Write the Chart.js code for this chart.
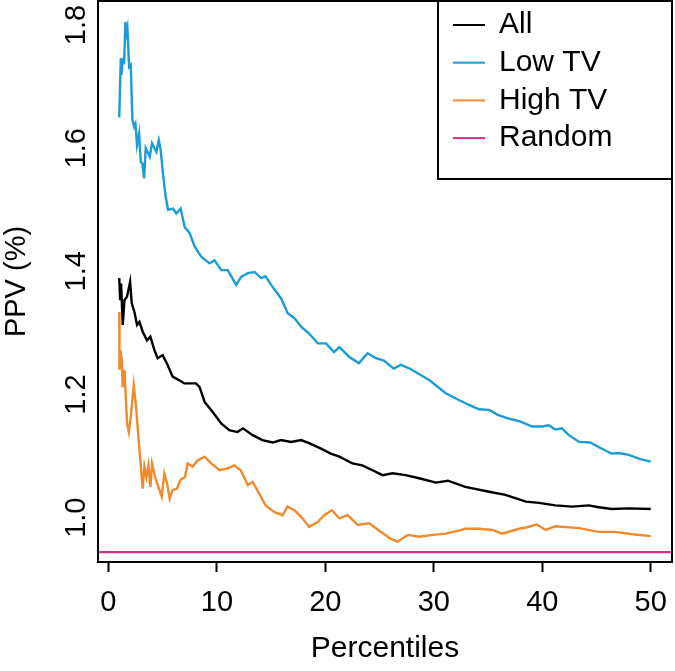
<!DOCTYPE html>
<html>
<head>
<meta charset="utf-8">
<script src="https://cdn.jsdelivr.net/npm/chart.js@4.4.1/dist/chart.umd.min.js"></script>
<style>
  html, body { margin: 0; padding: 0; background: #fff; }
</style>
</head>
<body>
<canvas id="ppv" width="675" height="671"></canvas>
<script>
// valores (percentil, PPV %)
const allX = [1.0, 1.08, 1.17, 1.32, 1.48, 1.72, 2.0, 2.15, 2.4, 2.64, 2.86, 3.16, 3.56, 3.87, 4.24, 4.54, 5.0, 5.46, 5.92, 6.54, 7.0, 7.6, 8.07, 8.41, 8.87, 9.6, 10.4, 11.14, 11.9, 12.4, 13.3, 14.2, 15.15, 15.9, 16.85, 17.76, 18.5, 19.6, 20.5, 21.3, 22.5, 23.4, 24.35, 25.27, 26.2, 27.4, 28.65, 30.2, 31.3, 32.9, 35.1, 36.6, 38.5, 39.7, 41.2, 42.75, 44.3, 45.2, 46.4, 47.97, 50.0];
const allY = [1.389, 1.353, 1.380, 1.313, 1.353, 1.359, 1.383, 1.348, 1.334, 1.313, 1.318, 1.302, 1.288, 1.294, 1.272, 1.259, 1.264, 1.248, 1.229, 1.223, 1.218, 1.218, 1.218, 1.212, 1.188, 1.172, 1.153, 1.142, 1.139, 1.145, 1.134, 1.126, 1.122, 1.126, 1.123, 1.126, 1.121, 1.112, 1.104, 1.099, 1.088, 1.085, 1.077, 1.069, 1.072, 1.069, 1.064, 1.057, 1.060, 1.050, 1.042, 1.037, 1.026, 1.024, 1.020, 1.018, 1.020, 1.017, 1.014, 1.015, 1.014];

const lowTvX = [1.0, 1.14, 1.2, 1.32, 1.45, 1.57, 1.66, 1.75, 1.91, 2.06, 2.21, 2.37, 2.49, 2.64, 2.83, 2.98, 3.13, 3.29, 3.44, 3.66, 3.81, 4.02, 4.2, 4.42, 4.64, 4.82, 5.03, 5.28, 5.5, 5.95, 6.26, 6.66, 7.03, 7.49, 7.96, 8.56, 9.33, 9.79, 10.4, 11.0, 11.78, 12.24, 12.85, 13.47, 14.08, 14.48, 15.0, 15.92, 16.53, 17.15, 17.76, 18.5, 19.3, 20.06, 20.8, 21.3, 22.2, 23.1, 23.9, 24.66, 25.4, 26.3, 26.97, 27.9, 29.6, 31.1, 32.3, 33.25, 34.17, 35.1, 35.9, 36.9, 38.0, 39.07, 40.0, 40.6, 41.2, 41.8, 42.45, 43.4, 44.4, 45.5, 46.4, 47.05, 47.97, 49.04, 50.0];
const lowTvY = [1.650, 1.746, 1.719, 1.743, 1.740, 1.805, 1.787, 1.795, 1.732, 1.735, 1.646, 1.635, 1.640, 1.605, 1.624, 1.578, 1.575, 1.551, 1.600, 1.592, 1.586, 1.608, 1.602, 1.594, 1.613, 1.597, 1.559, 1.521, 1.500, 1.502, 1.494, 1.502, 1.472, 1.462, 1.440, 1.424, 1.413, 1.418, 1.402, 1.402, 1.378, 1.391, 1.397, 1.399, 1.389, 1.392, 1.378, 1.356, 1.332, 1.324, 1.310, 1.299, 1.283, 1.283, 1.269, 1.277, 1.261, 1.251, 1.267, 1.259, 1.255, 1.242, 1.248, 1.241, 1.223, 1.202, 1.191, 1.183, 1.176, 1.175, 1.167, 1.161, 1.156, 1.148, 1.148, 1.150, 1.143, 1.145, 1.134, 1.123, 1.122, 1.112, 1.104, 1.105, 1.102, 1.095, 1.091];

const highTvX = [1.0, 1.02, 1.11, 1.23, 1.32, 1.48, 1.72, 1.88, 2.09, 2.34, 2.55, 2.86, 3.16, 3.32, 3.5, 3.69, 3.87, 4.02, 4.3, 4.7, 4.91, 5.16, 5.4, 5.65, 5.92, 6.32, 6.63, 7.06, 7.3, 7.76, 8.22, 8.87, 9.48, 10.25, 11.0, 11.6, 12.2, 12.85, 13.3, 13.9, 14.5, 15.3, 16.07, 16.5, 17.15, 17.9, 18.5, 19.3, 19.9, 20.6, 21.3, 22.05, 23.0, 24.05, 25.1, 26.0, 26.65, 27.6, 28.65, 29.9, 31.1, 32.3, 32.9, 34.2, 35.4, 36.3, 37.85, 38.5, 39.5, 40.3, 41.2, 43.4, 45.2, 46.7, 48.3, 50.0];
const highTvY = [1.334, 1.240, 1.272, 1.256, 1.212, 1.240, 1.153, 1.139, 1.169, 1.215, 1.180, 1.110, 1.047, 1.083, 1.066, 1.085, 1.050, 1.088, 1.066, 1.045, 1.034, 1.072, 1.056, 1.031, 1.045, 1.047, 1.061, 1.066, 1.088, 1.083, 1.093, 1.099, 1.088, 1.077, 1.080, 1.085, 1.077, 1.053, 1.058, 1.039, 1.020, 1.009, 1.004, 1.018, 1.012, 0.999, 0.985, 0.993, 1.004, 1.012, 0.999, 1.004, 0.988, 0.991, 0.977, 0.966, 0.961, 0.972, 0.969, 0.972, 0.974, 0.979, 0.982, 0.982, 0.980, 0.974, 0.982, 0.984, 0.989, 0.980, 0.986, 0.983, 0.977, 0.977, 0.973, 0.970];

const randomX = [-0.96, 51.96];
const randomY = [0.944, 0.944];

const xTicks = [0, 10, 20, 30, 40, 50];
const yTicks = [1.0, 1.2, 1.4, 1.6, 1.8];
const nombres = ['All', 'Low TV', 'High TV', 'Random'];
const colores = ['#000000', '#1b9bd8', '#f08a2c', '#d6308e'];

const fuente = '"Liberation Sans", Arial, sans-serif';

function puntos(xs, ys) {
  return xs.map((x, i) => ({ x: x, y: ys[i] }));
}

// marco, etiquetas del eje y (giradas) y leyenda
const marcoYLeyenda = {
  id: 'marcoYLeyenda',
  afterDraw(chart) {
    const ctx = chart.ctx;
    const area = chart.chartArea;
    const escalaY = chart.scales.y;
    ctx.save();
    ctx.strokeStyle = '#000';
    ctx.lineWidth = 2;
    ctx.strokeRect(area.left, area.top, area.right - area.left, area.bottom - area.top);

    ctx.fillStyle = '#000';
    ctx.font = '29px ' + fuente;
    ctx.textAlign = 'center';
    ctx.textBaseline = 'alphabetic';
    yTicks.forEach((v) => {
      ctx.save();
      ctx.translate(85, escalaY.getPixelForValue(v));
      ctx.rotate(-Math.PI / 2);
      ctx.fillText(v.toFixed(1), 0, 0);
      ctx.restore();
    });

    // leyenda arriba a la derecha
    const izq = 438, arriba = area.top, der = area.right, abajo = 179;
    ctx.fillStyle = '#fff';
    ctx.fillRect(izq, arriba, der - izq, abajo - arriba);
    ctx.strokeRect(izq, arriba, der - izq, abajo - arriba);
    ctx.font = '30px ' + fuente;
    ctx.textAlign = 'left';
    ctx.textBaseline = 'middle';
    chart.data.datasets.forEach((ds, i) => {
      const fila = 25 + i * 37.7;
      ctx.strokeStyle = ds.borderColor;
      ctx.lineWidth = 2;
      ctx.beginPath();
      ctx.moveTo(453, fila);
      ctx.lineTo(485, fila);
      ctx.stroke();
      ctx.fillStyle = '#000';
      ctx.fillText(ds.label, 499, fila);
    });
    ctx.restore();
  }
};

const series = [
  puntos(allX, allY),
  puntos(lowTvX, lowTvY),
  puntos(highTvX, highTvY),
  puntos(randomX, randomY)
];

new Chart(document.getElementById('ppv'), {
  type: 'line',
  data: {
    datasets: series.map((d, i) => ({
      label: nombres[i],
      data: d,
      borderColor: colores[i],
      borderWidth: 2.4,
      pointRadius: 0,
      tension: 0,
      fill: false
    }))
  },
  options: {
    animation: false,
    responsive: false,
    events: [],
    layout: { padding: { top: 1, right: 3, left: 0, bottom: 0 } },
    plugins: {
      legend: { display: false },
      tooltip: { enabled: false }
    },
    scales: {
      x: {
        type: 'linear',
        min: -0.96,
        max: 51.96,
        afterBuildTicks: (s) => { s.ticks = xTicks.map((v) => ({ value: v })); },
        afterFit: (s) => {
          s.height = 109;
          s.paddingLeft = 0;
          s.paddingRight = 0;
        },
        border: { display: false },
        grid: {
          drawOnChartArea: false,
          drawTicks: true,
          tickLength: 10,
          tickWidth: 2,
          tickColor: '#000'
        },
        ticks: {
          color: '#000',
          font: { size: 29, family: fuente },
          padding: 14,
          maxRotation: 0,
          autoSkip: false
        },
        title: {
          display: true,
          text: 'Percentiles',
          color: '#000',
          font: { size: 30, family: fuente },
          padding: { top: 0, bottom: 4 }
        }
      },
      y: {
        type: 'linear',
        min: 0.928,
        max: 1.839,
        afterBuildTicks: (s) => { s.ticks = yTicks.map((v) => ({ value: v })); },
        afterFit: (s) => {
          s.width = 98;
          s.paddingTop = 0;
          s.paddingBottom = 0;
        },
        border: { display: false },
        grid: { display: false },
        ticks: { display: false },
        title: {
          display: true,
          text: 'PPV (%)',
          color: '#000',
          font: { size: 29, family: fuente },
          padding: { top: 0, bottom: 0 }
        }
      }
    }
  },
  plugins: [marcoYLeyenda]
});
</script>
</body>
</html>
